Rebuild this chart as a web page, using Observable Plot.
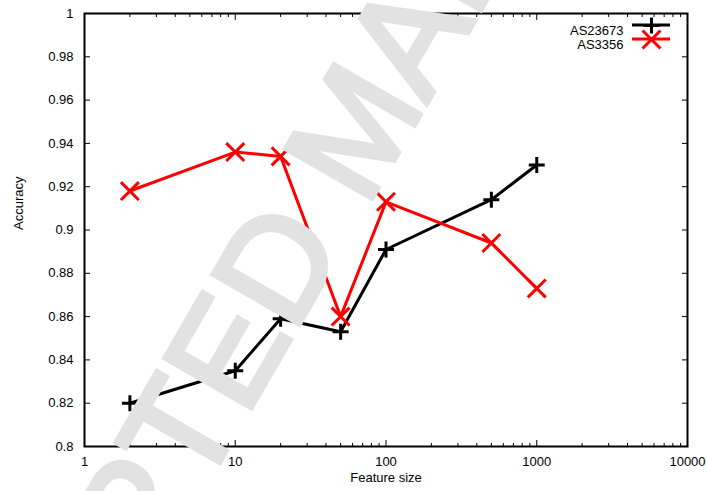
<!DOCTYPE html>
<html><head><meta charset="utf-8">
<script src="https://cdn.jsdelivr.net/npm/d3@7"></script>
<script src="https://cdn.jsdelivr.net/npm/@observablehq/plot@0.6"></script>
<style>
body{margin:0;background:#fff;}
#chart svg{display:block;}
</style></head><body><div id="chart"></div>
<script>
// ---- data ----
const featureSizes = [2, 10, 20, 50, 100, 500, 1000];
const as23673 = [0.820, 0.835, 0.859, 0.853, 0.891, 0.914, 0.930];
const as3356 = [0.918, 0.936, 0.934, 0.860, 0.913, 0.894, 0.873];
const seriesNames = ["AS23673", "AS3356"];
const seriesColors = ["#000000", "#ff0000"];
const seriesSymbols = ["plus", "times"];
const xTicks = [1, 10, 100, 1000, 10000];
const yTicks = [0.8, 0.82, 0.84, 0.86, 0.88, 0.9, 0.92, 0.94, 0.96, 0.98, 1];
const xLabel = "Feature size";
const yLabel = "Accuracy";
const watermarkText = "ACCEPTED MANUSCRIPT";

// minor log ticks 2..9 per decade
const minorX = [1, 10, 100, 1000].flatMap(d => [2,3,4,5,6,7,8,9].map(m => m * d));

const rows = [];
seriesNames.forEach((s, i) => {
  const vals = i === 0 ? as23673 : as3356;
  featureSizes.forEach((x, j) => rows.push({series: s, x, y: vals[j]}));
});

const font = "'Liberation Sans', Arial, Helvetica, sans-serif";
const W = 707, H = 491;
const mL = 84, mR = 20, mT = 13, mB = 45;

const legendMarks = [];
seriesNames.forEach((s, i) => {
  legendMarks.push(Plot.text([s], {frameAnchor: "top-right", text: d => d, textAnchor: "end",
    dx: -64, dy: 12 + i * 14, fontSize: 13, fill: "#000"}));
  legendMarks.push(Plot.dot([s], {frameAnchor: "top-right", symbol: () => seriesSymbols[i],
    r: i === 0 ? 5.2 : 8.2, stroke: seriesColors[i], strokeWidth: 3, fill: "none",
    dx: -36, dy: 12 + i * 14}));
});

const plot = Plot.plot({
  width: W, height: H,
  marginLeft: mL, marginRight: mR, marginTop: mT, marginBottom: mB,
  style: {fontFamily: font, fontSize: "13px", background: "#fff", color: "#000", overflow: "visible"},
  x: {type: "log", domain: [1, 10000]},
  y: {domain: [0.8, 1]},
  symbol: {domain: seriesNames, range: seriesSymbols},
  color: {domain: seriesNames, range: seriesColors},
  marks: [
    Plot.axisX(xTicks, {anchor: "bottom", tickSize: 0, tickPadding: 10, tickFormat: d => String(d), label: null}),
    Plot.axisX(xTicks, {anchor: "bottom", tickSize: -6, text: null, label: null}),
    Plot.axisX(xTicks, {anchor: "top", tickSize: -6, text: null, label: null}),
    Plot.axisX(minorX, {anchor: "bottom", tickSize: -3, text: null, label: null}),
    Plot.axisX(minorX, {anchor: "top", tickSize: -3, text: null, label: null}),
    Plot.axisY(yTicks, {anchor: "left", tickSize: 0, tickPadding: 11, tickFormat: d => String(+d.toFixed(2)), label: null}),
    Plot.axisY(yTicks, {anchor: "left", tickSize: -6, text: null, label: null}),
    Plot.axisY(yTicks, {anchor: "right", tickSize: -6, text: null, label: null}),
    Plot.frame({stroke: "#000", strokeWidth: 2}),
    Plot.text([xLabel], {frameAnchor: "bottom", text: d => d, dy: 35, fontSize: 13}),
    Plot.text([yLabel], {frameAnchor: "left", text: d => d, dx: -66, rotate: -90, fontSize: 13}),
    Plot.line(rows, {x: "x", y: "y", z: "series", stroke: "series", strokeWidth: 3}),
    Plot.dot(rows, {x: "x", y: "y", symbol: "series", stroke: "series", strokeWidth: 3,
      r: d => d.series === seriesNames[0] ? 5.2 : 8.2}),
    ...legendMarks
  ],
  r: {type: "identity"}
});

// legend line samples (behind the legend symbols)
const svg = d3.select(plot);
seriesNames.forEach((s, i) => {
  svg.append("line")
    .attr("x1", W - mR - 55).attr("x2", W - mR - 17)
    .attr("y1", mT + 12 + i * 14).attr("y2", mT + 12 + i * 14)
    .attr("stroke", seriesColors[i]).attr("stroke-width", 3);
});
// re-append the legend symbols so they sit above the sample lines
svg.selectAll("g[aria-label='dot']").filter((d, i, n) => i > 0).each(function() { this.parentNode.appendChild(this); });

// watermark on top
svg.append("text")
  .attr("transform", "translate(353,127) rotate(-60)")
  .attr("text-anchor", "middle").attr("dy", "0.36em")
  .attr("font-family", font).attr("font-size", 145)
  .attr("fill", "#e2e2e2").attr("stroke", "#e2e2e2").attr("stroke-width", 5)
  .attr("stroke-linejoin", "miter")
  .text(watermarkText);

document.getElementById("chart").appendChild(plot);
</script>
</body></html>
